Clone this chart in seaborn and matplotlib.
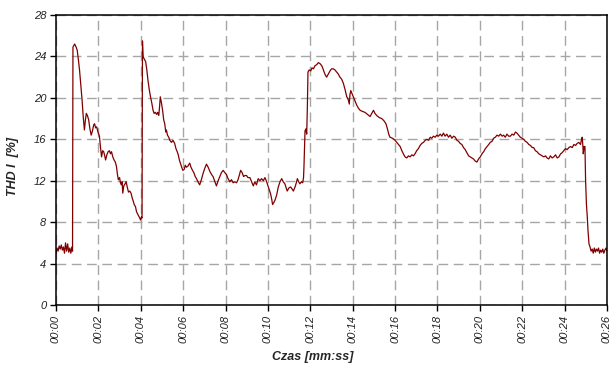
import matplotlib
matplotlib.use("Agg")
import matplotlib.pyplot as plt
import seaborn as sns
import pandas as pd

# Harmonic distortion of current over the recording (time in seconds)
czas_s = [
    0.00, 0.05, 0.10, 0.15, 0.20, 0.25, 0.30, 0.35, 0.40, 0.45, 0.50, 0.55, 0.60, 0.65, 0.70, 0.75,
    0.78, 0.80, 0.88, 0.95, 1.00, 1.05, 1.11, 1.17, 1.23, 1.28, 1.34, 1.39, 1.43, 1.48, 1.54, 1.60,
    1.66, 1.72, 1.78, 1.82, 1.87, 1.92, 1.98, 2.05, 2.10, 2.15, 2.20, 2.25, 2.30, 2.34, 2.40, 2.46,
    2.52, 2.57, 2.62, 2.68, 2.74, 2.80, 2.85, 2.90, 2.94, 3.00, 3.04, 3.08, 3.12, 3.15, 3.20, 3.26,
    3.31, 3.36, 3.42, 3.48, 3.54, 3.60, 3.65, 3.69, 3.75, 3.80, 3.85, 3.90, 3.95, 3.99, 4.03, 4.06,
    4.08, 4.11, 4.15, 4.20, 4.23, 4.28, 4.34, 4.40, 4.46, 4.52, 4.58, 4.63, 4.69, 4.75, 4.80, 4.85,
    4.89, 4.92, 4.97, 5.03, 5.08, 5.13, 5.18, 5.21, 5.26, 5.32, 5.37, 5.45, 5.52, 5.60, 5.66, 5.72,
    5.77, 5.82, 5.87, 5.93, 5.99, 6.05, 6.10, 6.15, 6.22, 6.31, 6.37, 6.44, 6.50, 6.57, 6.63, 6.70,
    6.78, 6.86, 6.94, 7.02, 7.10, 7.18, 7.26, 7.34, 7.41, 7.48, 7.57, 7.65, 7.73, 7.81, 7.89, 7.96,
    8.04, 8.12, 8.20, 8.28, 8.36, 8.44, 8.52, 8.59, 8.66, 8.71, 8.78, 8.85, 8.91, 8.99, 9.06, 9.15,
    9.23, 9.31, 9.38, 9.46, 9.54, 9.62, 9.70, 9.78, 9.86, 9.94, 10.02, 10.08, 10.13, 10.18, 10.22, 10.28,
    10.33, 10.41, 10.49, 10.57, 10.65, 10.72, 10.80, 10.86, 10.91, 10.99, 11.07, 11.14, 11.20, 11.28, 11.34, 11.39,
    11.45, 11.51, 11.58, 11.64, 11.68, 11.70, 11.73, 11.75, 11.79, 11.83, 11.86, 11.89, 11.95, 12.02, 12.08, 12.15,
    12.22, 12.30, 12.38, 12.46, 12.54, 12.60, 12.65, 12.71, 12.77, 12.85, 12.93, 13.00, 13.09, 13.16, 13.24, 13.32,
    13.40, 13.48, 13.56, 13.64, 13.72, 13.78, 13.84, 13.87, 13.91, 13.97, 14.03, 14.11, 14.19, 14.27, 14.35, 14.45,
    14.58, 14.70, 14.82, 14.90, 14.98, 15.05, 15.13, 15.25, 15.37, 15.47, 15.57, 15.64, 15.70, 15.76, 15.88, 16.00,
    16.12, 16.24, 16.32, 16.39, 16.47, 16.55, 16.63, 16.71, 16.79, 16.87, 16.94, 17.02, 17.10, 17.18, 17.26, 17.34,
    17.42, 17.50, 17.58, 17.66, 17.73, 17.81, 17.89, 17.97, 18.05, 18.13, 18.21, 18.28, 18.36, 18.44, 18.52, 18.60,
    18.68, 18.76, 18.84, 18.92, 19.00, 19.07, 19.15, 19.23, 19.31, 19.39, 19.47, 19.55, 19.63, 19.70, 19.78, 19.86,
    19.94, 20.02, 20.10, 20.18, 20.26, 20.34, 20.42, 20.49, 20.57, 20.65, 20.73, 20.81, 20.89, 20.97, 21.05, 21.12,
    21.20, 21.28, 21.36, 21.44, 21.52, 21.60, 21.68, 21.75, 21.83, 21.91, 21.99, 22.07, 22.15, 22.23, 22.31, 22.39,
    22.47, 22.54, 22.62, 22.70, 22.78, 22.86, 22.94, 23.02, 23.10, 23.17, 23.25, 23.33, 23.41, 23.49, 23.57, 23.65,
    23.73, 23.81, 23.88, 23.96, 24.04, 24.12, 24.20, 24.28, 24.36, 24.44, 24.52, 24.59, 24.67, 24.75, 24.80, 24.83,
    24.86, 24.88, 24.92, 24.96, 24.99, 25.03, 25.07, 25.10, 25.15, 25.20, 25.25, 25.30, 25.35, 25.40, 25.45, 25.50,
    25.55, 25.60, 25.65, 25.70, 25.75, 25.80, 25.85, 25.90, 25.95, 26.00,
]

thd_pct = [
    5.0, 5.5, 5.2, 5.7, 5.4, 5.8, 5.3, 5.6, 5.0, 6.0, 5.2, 5.9, 5.1, 5.5, 5.0, 5.6,
    5.2, 24.9, 25.2, 24.9, 24.6, 23.8, 22.7, 21.3, 19.8, 18.3, 16.9, 17.9, 18.5, 18.3, 17.9, 17.0,
    16.4, 16.8, 17.4, 17.5, 17.1, 17.2, 16.7, 16.3, 15.2, 14.3, 14.9, 14.8, 14.4, 14.0, 14.5, 14.8,
    14.9, 14.6, 14.8, 14.3, 14.0, 13.8, 13.4, 12.6, 12.1, 12.3, 11.8, 11.6, 11.9, 10.8, 11.5, 11.7,
    11.9, 11.4, 10.9, 11.0, 10.8, 10.3, 10.0, 9.7, 9.5, 9.0, 8.8, 8.6, 8.4, 8.2, 8.5, 8.4,
    25.5, 24.0, 23.8, 23.6, 23.5, 22.8, 21.7, 20.8, 20.1, 19.5, 18.8, 18.5, 18.6, 18.4, 18.6, 18.3,
    19.2, 20.1, 19.6, 18.8, 17.9, 17.5, 16.7, 16.9, 16.4, 16.2, 15.9, 15.7, 15.9, 15.6, 15.1, 14.8,
    14.5, 14.0, 13.7, 13.3, 13.0, 13.1, 13.5, 13.3, 13.4, 13.7, 13.3, 13.0, 12.8, 12.4, 12.2, 11.9,
    11.6, 12.1, 12.7, 13.2, 13.6, 13.3, 12.9, 12.6, 12.4, 12.0, 11.5, 12.0, 12.4, 12.8, 13.0, 12.8,
    12.6, 12.2, 11.9, 12.1, 11.8, 11.9, 11.8, 12.1, 12.6, 13.0, 12.8, 12.4, 12.5, 12.5, 12.3, 12.3,
    11.9, 11.5, 11.9, 11.6, 12.2, 12.0, 12.2, 12.0, 12.3, 11.9, 11.4, 11.0, 10.7, 10.2, 9.7, 9.9,
    10.1, 10.6, 11.4, 11.9, 12.2, 11.9, 11.7, 11.3, 11.0, 11.3, 11.4, 11.2, 11.0, 11.4, 11.8, 12.2,
    11.9, 11.7, 11.9, 11.8, 12.3, 13.3, 15.5, 16.8, 17.0, 16.5, 19.0, 22.5, 22.7, 22.6, 22.9, 22.8,
    23.1, 23.2, 23.4, 23.3, 23.1, 22.8, 22.5, 22.2, 22.0, 22.3, 22.6, 22.8, 22.8, 22.7, 22.5, 22.3,
    22.0, 21.8, 21.4, 20.8, 20.1, 19.9, 19.4, 20.3, 20.7, 20.4, 20.1, 19.7, 19.3, 19.0, 18.8, 18.7,
    18.6, 18.4, 18.2, 18.5, 18.8, 18.5, 18.3, 18.1, 18.0, 17.8, 17.5, 17.0, 16.5, 16.2, 16.1, 15.9,
    15.6, 15.3, 14.9, 14.6, 14.3, 14.2, 14.4, 14.3, 14.5, 14.4, 14.6, 14.9, 15.1, 15.4, 15.6, 15.7,
    15.9, 16.0, 15.9, 16.2, 16.1, 16.3, 16.2, 16.4, 16.3, 16.5, 16.3, 16.6, 16.3, 16.5, 16.2, 16.4,
    16.1, 16.3, 16.2, 15.9, 15.8, 15.6, 15.5, 15.2, 15.0, 14.7, 14.4, 14.3, 14.2, 14.1, 13.9, 13.8,
    14.1, 14.3, 14.6, 14.8, 15.1, 15.3, 15.5, 15.7, 15.8, 16.1, 16.2, 16.4, 16.3, 16.5, 16.3, 16.4,
    16.2, 16.5, 16.3, 16.3, 16.5, 16.4, 16.7, 16.6, 16.4, 16.2, 16.1, 16.0, 15.8, 15.7, 15.5, 15.4,
    15.2, 15.2, 14.9, 14.8, 14.6, 14.5, 14.4, 14.3, 14.4, 14.2, 14.1, 14.4, 14.2, 14.3, 14.5, 14.2,
    14.3, 14.6, 14.7, 14.9, 15.1, 15.0, 15.2, 15.3, 15.2, 15.5, 15.4, 15.6, 15.7, 15.5, 16.0, 16.2,
    15.4, 14.6, 15.3, 15.3, 12.0, 9.7, 8.5, 7.3, 5.9, 5.6, 5.2, 5.4, 5.0, 5.5, 5.1, 5.4,
    5.2, 5.5, 5.0, 5.3, 5.1, 5.4, 5.0, 5.3, 5.5, 5.2,
]

x_ticks = list(range(0, 27, 2))
x_tick_labels = [f"00:{s:02d}" for s in x_ticks]
y_ticks = list(range(0, 29, 4))

sns.set_theme(style="white")
plt.rcParams["font.family"] = ["Liberation Sans", "DejaVu Sans"]

fig = plt.figure(figsize=(6.10, 3.65), dpi=100)
ax = fig.add_axes([56 / 610, 1 - 305 / 365, (607 - 56) / 610, (305 - 15) / 365])

df = pd.DataFrame({"Czas": czas_s, "THD": thd_pct})
sns.lineplot(data=df, x="Czas", y="THD", ax=ax, color="#800000",
             linewidth=0.9, sort=False, estimator=None)

ax.set_xlim(0, 26)
ax.set_ylim(0, 28)
ax.set_xticks(x_ticks)
ax.set_xticklabels(x_tick_labels, rotation=90, fontstyle="italic", fontsize=8)
ax.set_yticks(y_ticks)
ax.set_yticklabels([str(v) for v in y_ticks], fontstyle="italic", fontsize=8)

ax.grid(True, color="#a6a6a6", linestyle=(0, (7, 4)), linewidth=1.0)
ax.set_axisbelow(True)
for side in ["left", "right", "top", "bottom"]:
    ax.spines[side].set_visible(True)
    ax.spines[side].set_color("black")
    ax.spines[side].set_linewidth(1.1)

ax.tick_params(axis="both", which="major", direction="out", length=4, width=1,
               color="black", labelcolor="#222222", bottom=True, left=True)
ax.tick_params(axis="y", pad=3)
ax.tick_params(axis="x", pad=3)

ax.set_xlabel("Czas [mm:ss]", fontsize=9, fontweight="bold", fontstyle="italic")
ax.set_ylabel("THD I  [%]", fontsize=9, fontweight="bold", fontstyle="italic")
ax.xaxis.set_label_coords(0.466, -0.158)
ax.yaxis.set_label_coords(-0.067, 0.476)

fig.savefig("out.png", dpi=100, facecolor="white")
